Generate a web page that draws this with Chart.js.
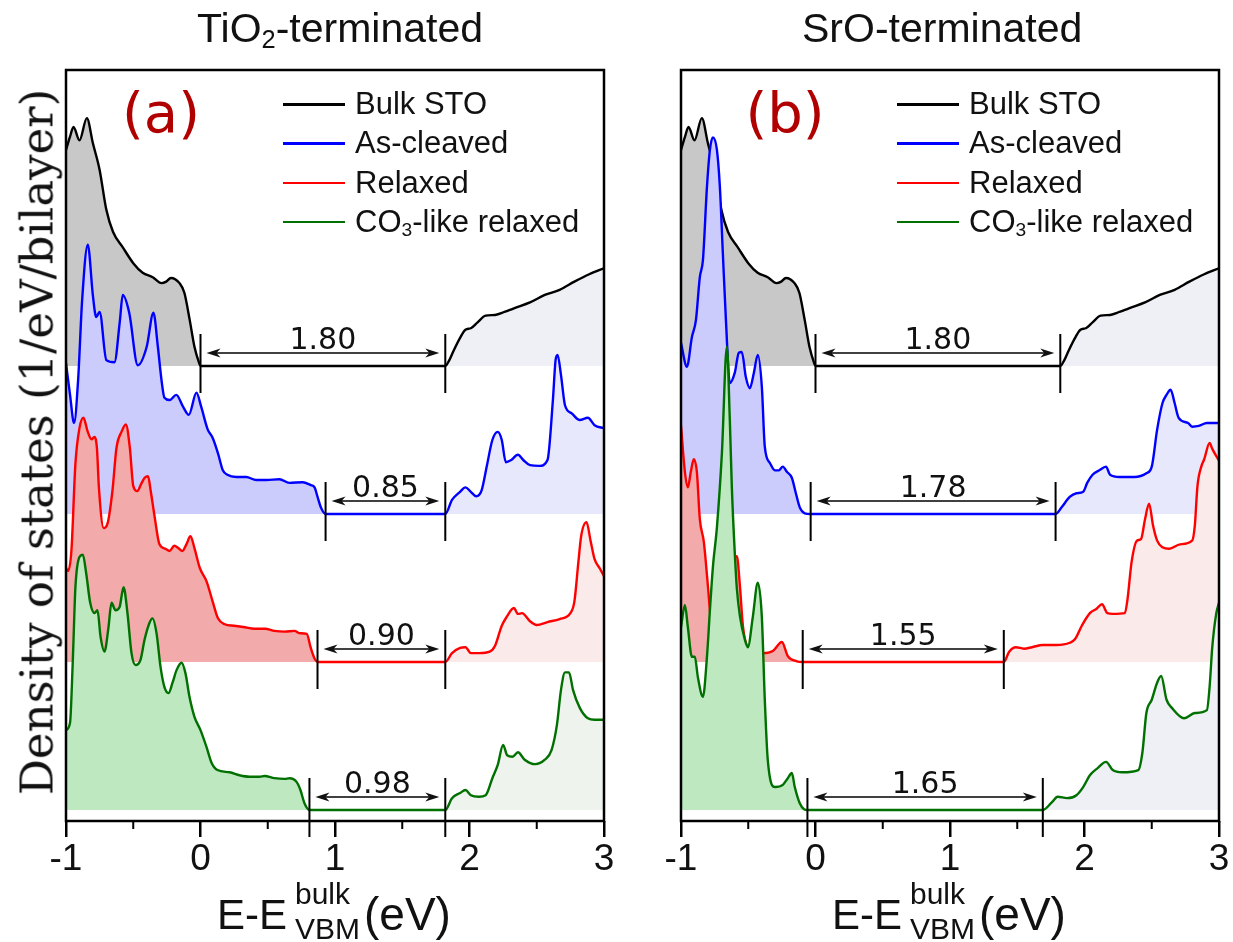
<!DOCTYPE html>
<html>
<head>
<meta charset="utf-8">
<script src="https://cdn.jsdelivr.net/npm/chart.js@4.4.1/dist/chart.umd.min.js"></script>
<style>
  body { margin:0; width:1233px; height:942px; position:relative; overflow:hidden; background:#fff; font-family:"Liberation Sans", Arial, sans-serif; color:#111; }
  .wrap { position:absolute; top:0; height:942px; }
  .title { position:absolute; top:8px; font-size:41px; line-height:41px; white-space:nowrap; }
  sub { font-size:0.62em; vertical-align:-0.22em; line-height:0; }
  .plabel { position:absolute; top:113px; font-family:"DejaVu Sans"; font-size:56px; line-height:56px; color:#b00000; transform:translate(-50%,-50%); }
  .leg { position:absolute; height:40px; line-height:40px; font-size:31px; white-space:nowrap; }
  .leg .sw { position:absolute; left:0; top:19px; width:62px; height:2.5px; }
  .leg .tx { position:absolute; left:72px; top:0; }
  .xbig { position:absolute; top:894px; font-size:42px; line-height:42px; white-space:nowrap; }
  .xev { position:absolute; top:891px; font-size:46px; line-height:46px; white-space:nowrap; }
  .xsm { position:absolute; font-size:30px; line-height:30px; white-space:nowrap; }
  .ylab { position:absolute; left:37px; top:442px; font-family:"DejaVu Serif"; font-size:45px; line-height:45px; white-space:nowrap; transform:translate(-50%,-50%) rotate(-90deg); }
</style>
</head>
<body>
<div class="wrap" style="left:0;width:620px"><canvas id="chartA"></canvas></div>
<div class="wrap" style="left:620px;width:613px"><canvas id="chartB"></canvas></div>

<div class="title" style="left:197px">TiO<sub>2</sub>-terminated</div>
<div class="title" style="left:802px">SrO-terminated</div>
<div class="plabel" style="left:161px">(a)</div>
<div class="plabel" style="left:785px">(b)</div>
<div id="legA"></div>
<div id="legB"></div>

<div class="xbig" style="left:217px">E-E</div>
<div class="xsm" style="left:295px;top:879px">bulk</div>
<div class="xsm" style="left:295px;top:914px">VBM</div>
<div class="xev" style="left:364px">(eV)</div>
<div class="xbig" style="left:832px">E-E</div>
<div class="xsm" style="left:910px;top:879px">bulk</div>
<div class="xsm" style="left:910px;top:914px">VBM</div>
<div class="xev" style="left:979px">(eV)</div>

<div class="ylab">Density of states (1/eV/bilayer)</div>

<script>
// series: [energia (eV), DOS] ; la brecha es el par de ceros consecutivos
const SERIES_NAMES = ['Bulk STO', 'As-cleaved', 'Relaxed', 'CO3-like relaxed'];
const LINE_COLORS = ['#000000', '#0000ff', '#ff0000', '#007000'];
const VALENCE_FILLS = ['#c8c8c8', '#ccccfc', '#f2aaaa', '#bee9c0'];
const COND_FILLS_A = ['#eef0f5', '#e8e8fc', '#faeaea', '#eef3ee'];
const COND_FILLS_B = ['#eef0f5', '#e8e8fc', '#faeaea', '#eef0f5'];
const OFFSETS = [6, 4, 2, 0];
const GAP_LABELS_A = ['1.80', '0.85', '0.90', '0.98'];
const GAP_LABELS_B = ['1.80', '1.78', '1.55', '1.65'];
const X_TICKS = [-1, 0, 1, 2, 3];
const X_MINOR = [-0.5, 0.5, 1.5, 2.5];

const BULK = [[-1.0,2.92],[-0.97,3.10],[-0.944,3.23],[-0.90,3.05],[-0.845,3.35],[-0.80,3.01],[-0.75,2.65],[-0.70,2.11],
  [-0.65,1.81],[-0.58,1.61],[-0.50,1.39],[-0.43,1.26],[-0.355,1.20],[-0.29,1.12],[-0.255,1.14],[-0.22,1.19],
  [-0.156,1.12],[-0.12,0.99],[-0.08,0.62],[-0.045,0.26],[-0.01,0.04],[0.0,0],
  [1.82,0],[1.85,0.08],[1.88,0.2],[1.93,0.38],[1.97,0.49],[2.01,0.51],[2.06,0.59],[2.12,0.68],[2.19,0.69],
  [2.26,0.73],[2.33,0.78],[2.45,0.86],[2.56,0.96],[2.67,1.03],[2.78,1.14],[2.89,1.24],[3.0,1.32]];

const A_CLEAVED = [[-1.0,2.04],[-0.97,1.61],[-0.94,1.23],[-0.91,1.81],[-0.88,2.89],[-0.838,3.64],[-0.80,2.95],
  [-0.775,2.66],[-0.75,2.73],[-0.70,2.08],[-0.64,2.05],[-0.60,2.6],[-0.578,2.96],[-0.53,2.72],[-0.466,2.01],
  [-0.40,2.26],[-0.35,2.72],[-0.317,2.26],[-0.29,1.81],[-0.268,1.57],[-0.23,1.54],[-0.18,1.61],[-0.13,1.45],
  [-0.087,1.34],[-0.03,1.64],[0.005,1.45],[0.054,1.14],[0.09,1.03],[0.13,0.82],[0.166,0.59],[0.20,0.53],
  [0.265,0.50],[0.34,0.50],[0.414,0.46],[0.49,0.46],[0.587,0.47],[0.66,0.42],[0.76,0.43],[0.82,0.39],
  [0.848,0.36],[0.872,0.22],[0.897,0.08],[0.93,0],
  [1.82,0],[1.87,0.19],[1.93,0.30],[1.97,0.36],[2.01,0.30],[2.05,0.24],[2.09,0.32],[2.13,0.66],[2.17,1.00],
  [2.21,1.11],[2.24,1.00],[2.27,0.70],[2.31,0.73],[2.36,0.80],[2.40,0.73],[2.45,0.66],[2.52,0.65],[2.58,0.73],
  [2.62,1.54],[2.64,2.08],[2.655,2.15],[2.68,1.88],[2.71,1.47],[2.76,1.36],[2.82,1.27],[2.88,1.30],[2.93,1.20],[3.0,1.16]];

const A_RELAXED = [[-1.0,1.27],[-0.985,1.23],[-0.96,1.5],[-0.93,2.68],[-0.90,3.16],[-0.87,3.30],[-0.84,3.12],
  [-0.81,3.01],[-0.79,3.04],[-0.77,2.89],[-0.755,2.35],[-0.72,1.81],[-0.69,1.88],[-0.655,2.31],[-0.625,2.89],
  [-0.585,3.12],[-0.555,3.21],[-0.525,2.89],[-0.50,2.38],[-0.47,2.31],[-0.44,2.41],[-0.415,2.49],[-0.39,2.51],
  [-0.37,2.31],[-0.34,1.95],[-0.305,1.59],[-0.26,1.53],[-0.23,1.50],[-0.195,1.57],[-0.165,1.54],[-0.135,1.50],
  [-0.105,1.59],[-0.075,1.70],[-0.045,1.54],[-0.005,1.27],[0.045,1.09],[0.09,0.82],[0.13,0.59],[0.18,0.51],
  [0.25,0.49],[0.33,0.47],[0.40,0.45],[0.48,0.45],[0.55,0.42],[0.625,0.41],[0.70,0.42],[0.735,0.39],
  [0.79,0.38],[0.82,0.19],[0.85,0.04],[0.87,0],
  [1.82,0],[1.87,0.12],[1.93,0.19],[1.97,0.20],[2.01,0.12],[2.07,0.12],[2.15,0.14],[2.19,0.22],[2.24,0.49],
  [2.28,0.62],[2.33,0.73],[2.36,0.65],[2.39,0.66],[2.45,0.55],[2.50,0.50],[2.58,0.54],[2.67,0.58],[2.75,0.66],
  [2.78,0.82],[2.81,1.36],[2.83,1.70],[2.87,1.89],[2.90,1.64],[2.93,1.39],[2.97,1.26],[3.0,1.16]];

const A_CO3 = [[-1.0,1.08],[-0.97,1.18],[-0.95,1.99],[-0.93,3.01],[-0.90,3.42],[-0.875,3.45],[-0.85,3.20],
  [-0.82,2.80],[-0.788,2.66],[-0.766,2.70],[-0.743,2.34],[-0.714,2.14],[-0.684,2.47],[-0.662,2.80],[-0.632,2.70],
  [-0.602,2.74],[-0.572,3.01],[-0.543,2.66],[-0.513,2.12],[-0.483,1.96],[-0.446,2.03],[-0.416,2.30],[-0.379,2.53],
  [-0.357,2.59],[-0.327,2.39],[-0.297,1.93],[-0.268,1.66],[-0.238,1.58],[-0.208,1.72],[-0.178,1.89],[-0.141,1.99],
  [-0.112,1.85],[-0.082,1.53],[-0.045,1.26],[0.0,1.08],[0.045,0.85],[0.082,0.64],[0.126,0.54],[0.216,0.51],
  [0.290,0.47],[0.364,0.45],[0.439,0.45],[0.476,0.46],[0.55,0.43],[0.625,0.42],[0.662,0.43],[0.714,0.38],
  [0.743,0.27],[0.773,0.09],[0.81,0],
  [1.82,0],[1.87,0.16],[1.93,0.23],[1.97,0.27],[2.01,0.20],[2.07,0.18],[2.12,0.20],[2.17,0.43],[2.21,0.61],
  [2.25,0.88],[2.28,0.74],[2.32,0.72],[2.36,0.78],[2.41,0.68],[2.49,0.62],[2.56,0.68],[2.61,0.81],[2.65,1.15],
  [2.68,1.62],[2.71,1.86],[2.74,1.86],[2.77,1.62],[2.82,1.38],[2.88,1.24],[2.93,1.22],[3.0,1.22]];

const B_CLEAVED = [[-1.0,2.31],[-0.956,1.99],[-0.919,2.39],[-0.889,2.62],[-0.860,3.20],[-0.837,3.43],[-0.807,4.42],
  [-0.785,4.92],[-0.763,5.09],[-0.733,4.92],[-0.711,4.42],[-0.689,3.53],[-0.666,2.62],[-0.637,1.77],[-0.600,1.91],
  [-0.570,2.18],[-0.548,2.19],[-0.518,1.85],[-0.488,1.70],[-0.458,1.91],[-0.429,2.15],[-0.399,1.72],[-0.377,0.91],
  [-0.339,0.69],[-0.302,0.59],[-0.273,0.59],[-0.243,0.64],[-0.213,0.57],[-0.176,0.49],[-0.146,0.28],
  [-0.117,0.09],[-0.080,0.01],[-0.036,0],
  [1.785,0],[1.83,0.09],[1.89,0.23],[1.94,0.28],[1.99,0.30],[2.02,0.42],[2.06,0.53],[2.11,0.59],[2.16,0.64],
  [2.19,0.53],[2.26,0.50],[2.37,0.50],[2.46,0.55],[2.50,0.64],[2.54,1.14],[2.58,1.50],[2.61,1.61],[2.64,1.68],
  [2.67,1.50],[2.70,1.30],[2.77,1.23],[2.80,1.18],[2.85,1.19],[2.91,1.23],[3.0,1.23]];

const B_RELAXED = [[-1.0,3.19],[-0.971,2.57],[-0.949,2.36],[-0.927,2.57],[-0.905,2.74],[-0.882,2.57],[-0.860,1.93],
  [-0.830,1.62],[-0.800,1.03],[-0.778,0.58],[-0.74,0.45],[-0.70,0.6],[-0.65,1.0],[-0.62,1.35],[-0.585,1.43],
  [-0.562,1.03],[-0.540,0.49],[-0.510,0.22],[-0.45,0.14],[-0.391,0.12],[-0.317,0.15],[-0.250,0.27],
  [-0.206,0.08],[-0.139,0.01],[-0.095,0],
  [1.40,0],[1.44,0.14],[1.49,0.20],[1.55,0.18],[1.61,0.20],[1.69,0.23],[1.79,0.23],[1.89,0.26],[1.93,0.31],
  [1.98,0.49],[2.04,0.66],[2.09,0.72],[2.13,0.78],[2.17,0.66],[2.21,0.65],[2.30,0.66],[2.32,0.85],[2.35,1.35],
  [2.39,1.64],[2.42,1.66],[2.45,1.93],[2.48,2.14],[2.51,1.84],[2.54,1.64],[2.58,1.55],[2.63,1.53],[2.71,1.59],
  [2.80,1.64],[2.82,1.84],[2.84,2.38],[2.87,2.65],[2.89,2.74],[2.93,2.96],[2.95,2.88],[3.0,2.72]];

const B_CO3 = [[-1.0,2.47],[-0.971,2.77],[-0.949,2.47],[-0.919,2.07],[-0.897,2.07],[-0.875,1.80],[-0.837,1.53],
  [-0.807,2.07],[-0.785,2.70],[-0.763,3.28],[-0.733,3.82],[-0.696,4.82],[-0.659,6.26],[-0.637,5.27],
  [-0.622,4.36],[-0.600,3.47],[-0.585,3.0],[-0.562,2.62],[-0.525,2.30],[-0.503,2.20],[-0.466,2.61],
  [-0.429,3.07],[-0.399,2.61],[-0.377,1.49],[-0.355,0.68],[-0.302,0.31],[-0.243,0.34],[-0.206,0.43],
  [-0.176,0.50],[-0.154,0.31],[-0.117,0.09],[-0.085,0.01],[-0.06,0],
  [1.69,0],[1.76,0.11],[1.80,0.18],[1.87,0.16],[1.94,0.20],[1.99,0.31],[2.04,0.47],[2.10,0.57],[2.16,0.65],
  [2.21,0.54],[2.28,0.51],[2.40,0.54],[2.43,0.77],[2.46,1.31],[2.50,1.49],[2.54,1.72],[2.57,1.81],[2.61,1.49],
  [2.65,1.38],[2.74,1.24],[2.82,1.31],[2.91,1.35],[2.93,1.66],[2.95,2.20],[2.98,2.66],[3.0,2.80]];

const SERIES_A = [BULK, A_CLEAVED, A_RELAXED, A_CO3];
const SERIES_B = [BULK, B_CLEAVED, B_RELAXED, B_CO3];

// --- utilidades
function gapOf(pts) {
  for (let i = 0; i < pts.length - 1; i++) {
    if (pts[i][1] === 0 && pts[i + 1][1] === 0 && pts[i + 1][0] - pts[i][0] > 0.3) return [pts[i][0], pts[i + 1][0]];
  }
  return [0, 0];
}

// relleno de dos colores: valencia a la izquierda de la brecha, conduccion a la derecha
function splitFill(chart, eSplit, cLeft, cRight) {
  const area = chart.chartArea;
  if (!area || !chart.scales.x) return cLeft;
  const px = chart.scales.x.getPixelForValue(eSplit);
  const f = Math.min(Math.max((px - area.left) / (area.right - area.left), 0), 1);
  const g = chart.ctx.createLinearGradient(area.left, 0, area.right, 0);
  g.addColorStop(0, cLeft); g.addColorStop(f, cLeft);
  g.addColorStop(f, cRight); g.addColorStop(1, cRight);
  return g;
}

function arrowHead(ctx, x, y, dir) {
  ctx.beginPath();
  ctx.moveTo(x, y);
  ctx.lineTo(x - dir * 14, y - 4.5);
  ctx.lineTo(x - dir * 10, y);
  ctx.lineTo(x - dir * 14, y + 4.5);
  ctx.closePath();
  ctx.fill();
}

const framePlugin = {
  id: 'frame',
  afterDraw(chart) {
    const { ctx, chartArea: a, scales: { x } } = chart;
    ctx.save();
    ctx.strokeStyle = '#000';
    ctx.lineWidth = 2.5;
    ctx.strokeRect(a.left, a.top, a.right - a.left, a.bottom - a.top);
    ctx.lineWidth = 2;
    ctx.beginPath();
    X_MINOR.forEach(v => {
      const p = x.getPixelForValue(v);
      ctx.moveTo(p, a.bottom); ctx.lineTo(p, a.bottom + 8);
    });
    ctx.stroke();
    ctx.restore();
  }
};

const gapPlugin = {
  id: 'gaps',
  afterDatasetsDraw(chart, args, opts) {
    const { ctx, scales: { x, y } } = chart;
    ctx.save();
    opts.series.forEach((pts, i) => {
      const [gl, gr] = gapOf(pts);
      const yb = y.getPixelForValue(OFFSETS[i]);
      const xl = x.getPixelForValue(gl), xr = x.getPixelForValue(gr);
      ctx.strokeStyle = '#000'; ctx.fillStyle = '#111';
      ctx.lineWidth = 2;
      ctx.beginPath();
      ctx.moveTo(xl, yb - 32); ctx.lineTo(xl, yb + 27);
      ctx.moveTo(xr, yb - 32); ctx.lineTo(xr, yb + 27);
      ctx.stroke();
      const ya = yb - 13;
      ctx.lineWidth = 1.5;
      ctx.beginPath();
      ctx.moveTo(xl + 10, ya); ctx.lineTo(xr - 10, ya);
      ctx.stroke();
      arrowHead(ctx, xl + 6, ya, -1);
      arrowHead(ctx, xr - 6, ya, 1);
      ctx.font = '30px "DejaVu Sans"';
      ctx.textAlign = 'center';
      ctx.textBaseline = 'alphabetic';
      ctx.fillText(opts.labels[i], (xl + xr) / 2, yb - 17);
    });
    ctx.restore();
  }
};

function buildChart(canvasId, series, condFills, gapLabels, padLeft, padRight) {
  const datasets = series.map((pts, i) => {
    const [gl, gr] = gapOf(pts);
    return {
      label: SERIES_NAMES[i],
      data: pts.map(([e, d]) => ({ x: e, y: d + OFFSETS[i] })),
      borderColor: LINE_COLORS[i],
      borderWidth: 2.4,
      pointRadius: 0,
      cubicInterpolationMode: 'monotone',
      fill: { value: OFFSETS[i] },
      backgroundColor: (c) => splitFill(c.chart, (gl + gr) / 2, VALENCE_FILLS[i], condFills[i]),
      order: 4 - i
    };
  });
  return new Chart(document.getElementById(canvasId), {
    type: 'line',
    data: { datasets },
    options: {
      responsive: true,
      maintainAspectRatio: false,
      animation: false,
      layout: { padding: { left: padLeft, right: padRight, top: 70, bottom: 0 } },
      plugins: {
        legend: { display: false },
        tooltip: { enabled: false },
        filler: { drawTime: 'beforeDatasetDraw' },
        gaps: { series, labels: gapLabels }
      },
      scales: {
        x: {
          type: 'linear', min: -1, max: 3,
          afterFit(s) { s.height = 121; },
          afterBuildTicks(s) { s.ticks = X_TICKS.map(v => ({ value: v })); },
          border: { display: false },
          grid: { drawOnChartArea: false, drawTicks: true, tickLength: 16, color: '#000', lineWidth: 2.5 },
          ticks: {
            color: '#111', padding: 1, maxRotation: 0, autoSkip: false,
            font: { family: '"Liberation Sans", Arial, sans-serif', size: 37 },
            callback: (v) => String(v)
          }
        },
        y: { display: false, min: -0.1486, max: 10 }
      }
    },
    plugins: [framePlugin, gapPlugin]
  });
}

buildChart('chartA', SERIES_A, COND_FILLS_A, GAP_LABELS_A, 66, 16);
buildChart('chartB', SERIES_B, COND_FILLS_B, GAP_LABELS_B, 61, 14);

// leyendas
function buildLegend(id, left) {
  const box = document.getElementById(id);
  SERIES_NAMES.forEach((name, i) => {
    const row = document.createElement('div');
    row.className = 'leg';
    row.style.left = left + 'px';
    row.style.top = (84 + i * 39.3) + 'px';
    row.innerHTML = `<div class="sw" style="background:${LINE_COLORS[i]}"></div><div class="tx">${name.replace('CO3', 'CO<sub>3</sub>')}</div>`;
    box.appendChild(row);
  });
}
buildLegend('legA', 283);
buildLegend('legB', 897);
</script>
</body>
</html>
